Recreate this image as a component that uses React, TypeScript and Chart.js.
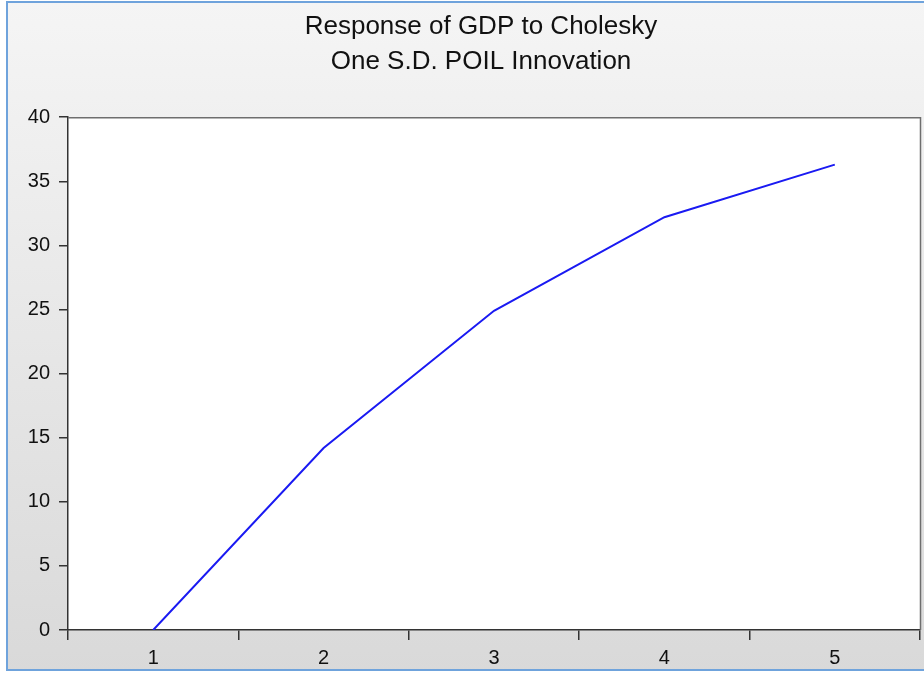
import React, { useEffect, useRef } from "react";
import { Chart, registerables } from "chart.js";

Chart.register(...registerables);

const categories = ["1", "2", "3", "4", "5"];
const gdpResponse = [0, 14.2, 24.9, 32.2, 36.3];
const titleLines = ["Response of GDP to Cholesky", "One S.D. POIL Innovation"];
const yMin = 0;
const yMax = 40;
const yStep = 5;

const FONT = "'Liberation Sans', Arial, sans-serif";

const framePlugin = {
  id: "frame",
  afterLayout(chart: any) {
    const tb = chart.titleBlock;
    if (tb) {
      tb.left = 38;
      tb.right = chart.width;
    }
  },
  beforeDraw(chart: any) {
    const { ctx, width, height, chartArea } = chart;
    ctx.save();
    ctx.fillStyle = "#ffffff";
    ctx.fillRect(0, 0, width, height);
    const g = ctx.createLinearGradient(0, 0, 0, height);
    g.addColorStop(0, "#f5f5f5");
    g.addColorStop(1, "#d9d9d9");
    ctx.fillStyle = g;
    ctx.fillRect(6, 1, width - 6, height - 3);
    ctx.strokeStyle = "#6fa3dc";
    ctx.lineWidth = 2;
    ctx.beginPath();
    ctx.moveTo(width + 2, 2);
    ctx.lineTo(7, 2);
    ctx.lineTo(7, height - 3);
    ctx.lineTo(width + 2, height - 3);
    ctx.stroke();
    ctx.fillStyle = "#ffffff";
    ctx.fillRect(chartArea.left, chartArea.top, chartArea.right - chartArea.left, chartArea.bottom - chartArea.top);
    ctx.restore();
  },
  afterDraw(chart: any) {
    const { ctx, chartArea } = chart;
    ctx.save();
    ctx.strokeStyle = "#6e6e6e";
    ctx.lineWidth = 1.5;
    ctx.beginPath();
    ctx.moveTo(chartArea.left, chartArea.top + 0.5);
    ctx.lineTo(chartArea.right + 0.5, chartArea.top + 0.5);
    ctx.lineTo(chartArea.right + 0.5, chartArea.bottom);
    ctx.stroke();
    ctx.restore();
  },
};

export default function App() {
  const ref = useRef<HTMLCanvasElement | null>(null);

  useEffect(() => {
    document.body.style.margin = "0";
    if (!ref.current) return;
    const chart = new Chart(ref.current, {
      type: "line",
      data: {
        labels: categories,
        datasets: [
          {
            data: gdpResponse,
            borderColor: "#1a1af2",
            borderWidth: 2,
            pointRadius: 0,
            tension: 0,
            fill: false,
          },
        ],
      },
      options: {
        animation: false,
        responsive: false,
        layout: { padding: { left: 0, right: 4, top: 0, bottom: 0 } },
        plugins: {
          legend: { display: false },
          tooltip: { enabled: false },
          title: {
            display: true,
            text: titleLines,
            color: "#111111",
            font: { family: FONT, size: 26, weight: "normal", lineHeight: 1.35 },
            padding: { top: 9, bottom: 38 },
          },
        },
        scales: {
          x: {
            type: "category",
            offset: true,
            grid: {
              offset: true,
              drawOnChartArea: false,
              drawTicks: true,
              tickLength: 10,
              color: "#333333",
              lineWidth: 1.5,
            },
            border: { display: true, color: "#333333", width: 1.5 },
            ticks: { color: "#111111", font: { family: FONT, size: 20 }, padding: 6 },
            afterFit(scale: any) {
              scale.height = 43;
            },
          },
          y: {
            min: yMin,
            max: yMax,
            grid: {
              drawOnChartArea: false,
              drawTicks: true,
              tickLength: 9,
              color: "#333333",
              lineWidth: 1.5,
            },
            border: { display: true, color: "#333333", width: 1.5 },
            ticks: {
              stepSize: yStep,
              color: "#111111",
              font: { family: FONT, size: 20 },
              padding: 9,
            },
            afterFit(scale: any) {
              scale.width = 68;
            },
          },
        },
      },
      plugins: [framePlugin],
    });
    return () => chart.destroy();
  }, []);

  return (
    <div style={{ position: "absolute", left: 0, top: 0, width: 924, height: 673 }}>
      <canvas ref={ref} width={924} height={673} style={{ display: "block", width: 924, height: 673 }} />
    </div>
  );
}
